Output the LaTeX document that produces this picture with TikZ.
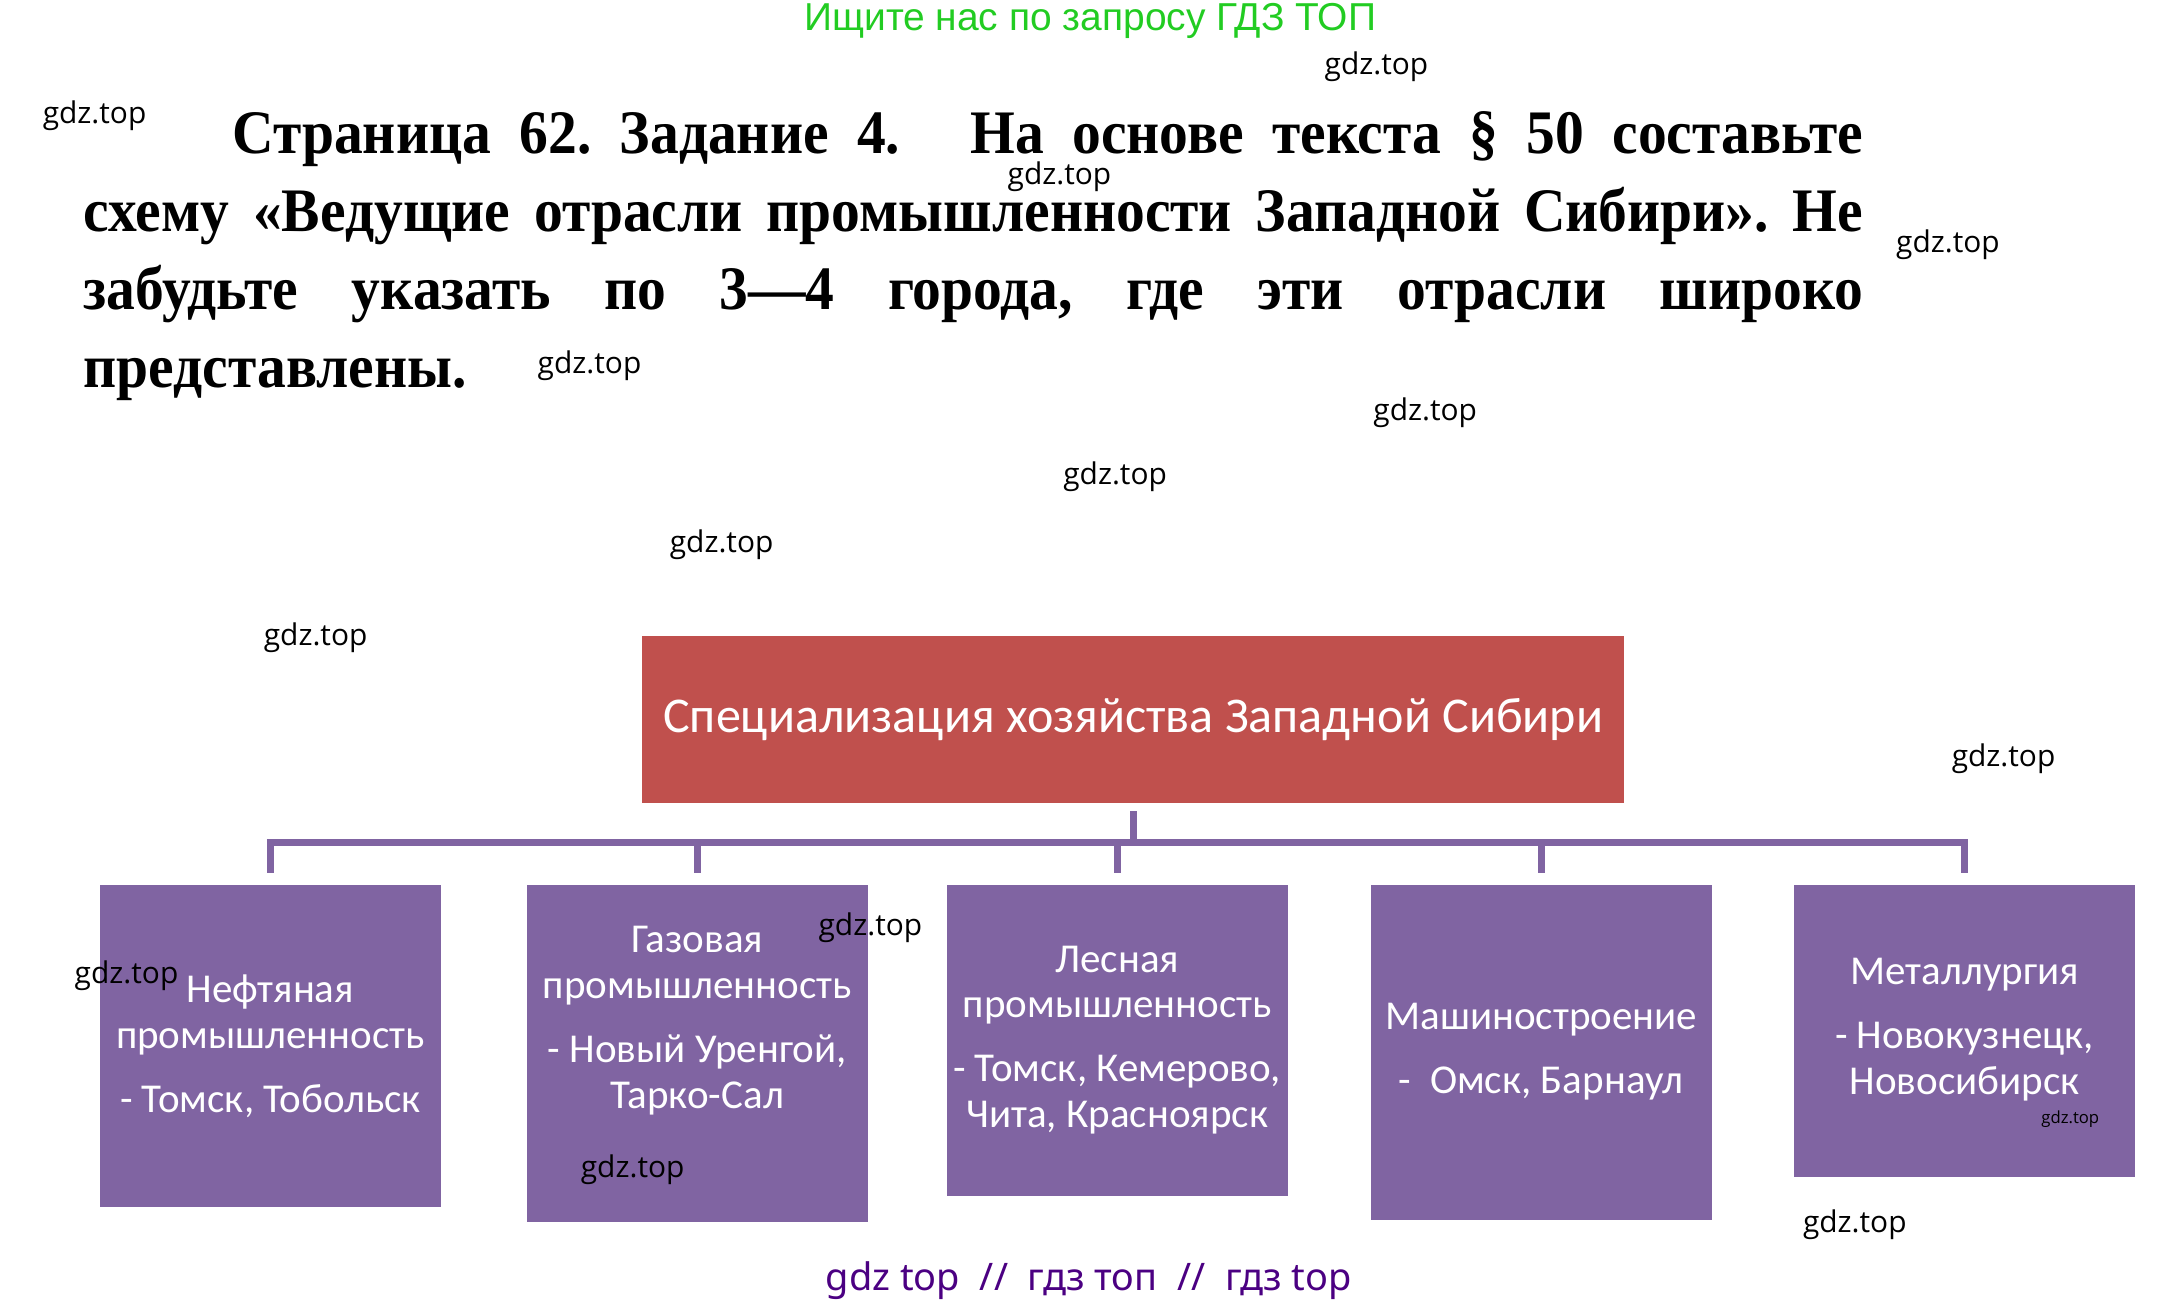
\documentclass[tikz,border=0pt]{standalone}
\usepackage{fontspec}
\setmainfont{Carlito}
\newfontfamily\headfont[FakeStretch=0.93]{Liberation Serif}
\newfontfamily\markfont{Open Sans}
\newfontfamily\adfont{Liberation Sans}
\newfontfamily\footfont{Noto Sans}
\usetikzlibrary{positioning}
\definecolor{titlered}{RGB}{192,80,77}
\definecolor{catviolet}{RGB}{128,100,162}
\definecolor{adgreen}{RGB}{34,204,34}
\definecolor{footindigo}{RGB}{75,0,130}
\tikzset{
  topbox/.style={fill=titlered, text=white, minimum width=706pt, minimum height=120pt,
    anchor=north, inner sep=0pt, font=\fontsize{36}{42}\selectfont},
  catbox/.style={fill=catviolet, minimum width=245pt, anchor=north, inner sep=0pt},
  cattext/.style={text=white, align=center, inner sep=0pt, font=\fontsize{29.5}{33}\selectfont},
  bus/.style={draw=catviolet, line width=5pt},
  wmark/.style={inner sep=0pt, font=\markfont\fontsize{21.5}{24}\selectfont}
}
\begin{document}
\begin{tikzpicture}[x=1pt,y=-1pt]
\useasboundingbox (0,0) rectangle (1560,936);
% Header
\node[inner sep=0pt, text=adgreen, font=\adfont\fontsize{28}{32}\selectfont] (ad) at (784,15) {Ищите нас по запросу ГДЗ ТОП};
\node[anchor=north west, inner sep=0pt, text width=1280pt, align=justify,
  font=\headfont\bfseries\fontsize{44.5}{56}\selectfont\frenchspacing] (task) at (60,80)
  {\hspace*{107pt}Страница 62. Задание 4.\hspace{30pt} На основе текста § 50 составьте\linebreak
   схему «Ведущие отрасли промышленности Западной Сибири». Не\linebreak
   забудьте указать по 3—4 города, где эти отрасли широко\linebreak
   представлены.};
% Body
\node[topbox] (spec) at (815,457) {Специализация хозяйства Западной Сибири};
\node[catbox, minimum height=232pt] (oil) at (194.5,636) {};
\node[catbox, minimum height=243pt] (gas) at (501.5,636) {};
\node[catbox, minimum height=224pt] (wood) at (803.5,636) {};
\node[catbox, minimum height=241pt] (mach) at (1108.5,636) {};
\node[catbox, minimum height=210pt] (metal) at (1413,636) {};
\node[cattext, below=65pt of oil.north] (oiltxt) {Нефтяная\\промышленность\\[13pt]- Томск, Тобольск};
\node[cattext, below=30pt of gas.north] (gastxt) {Газовая\\промышленность\\[13pt]- Новый Уренгой,\\Тарко-Сал};
\node[cattext, below=44pt of wood.north] (woodtxt) {Лесная\\промышленность\\[13pt]- Томск, Кемерово,\\Чита, Красноярск};
\node[cattext, below=85pt of mach.north] (machtxt) {Машиностроение\\[13pt]-\ \ Омск, Барнаул};
\node[cattext, below=53pt of metal.north] (metaltxt) {Металлургия\\[13pt]- Новокузнецк,\\Новосибирск};
% Connectors
\coordinate (hub) at (815,606);
\path[bus, shorten <=6pt] (spec.south) -- (hub);
\path[bus] ([xshift=-2.5pt]oil.north |- hub) -- ([xshift=2.5pt]metal.north |- hub);
\foreach \b in {oil,gas,wood,mach,metal}
  \path[bus, shorten >=8pt] (\b.north |- hub) -- (\b.north);
% Watermarks
\node[wmark] (w1) at (990,48) {gdz.top};
\node[wmark] (w2) at (68,83) {gdz.top};
\node[wmark] (w3) at (762,127) {gdz.top};
\node[wmark] (w4) at (1401,176) {gdz.top};
\node[wmark] (w5) at (424,263) {gdz.top};
\node[wmark] (w6) at (1025,297) {gdz.top};
\node[wmark] (w7) at (802,343) {gdz.top};
\node[wmark] (w8) at (519,392) {gdz.top};
\node[wmark] (w9) at (227,459) {gdz.top};
\node[wmark] (w10) at (1441,546) {gdz.top};
\node[wmark] (w11) at (626,667) {gdz.top};
\node[wmark] (w12) at (91,702) {gdz.top};
\node[wmark] (w13) at (455,841) {gdz.top};
\node[wmark, font=\markfont\fontsize{12}{14}\selectfont] (w14) at (1489,805) {gdz.top};
\node[wmark] (w15) at (1334,881) {gdz.top};
\node[inner sep=0pt, text=footindigo, font=\footfont\fontsize{27.3}{32}\selectfont] (foot) at (783,921)
  {gdz top\ \ //\ \ гдз топ\ \ //\ \ гдз top};
\end{tikzpicture}
\end{document}
